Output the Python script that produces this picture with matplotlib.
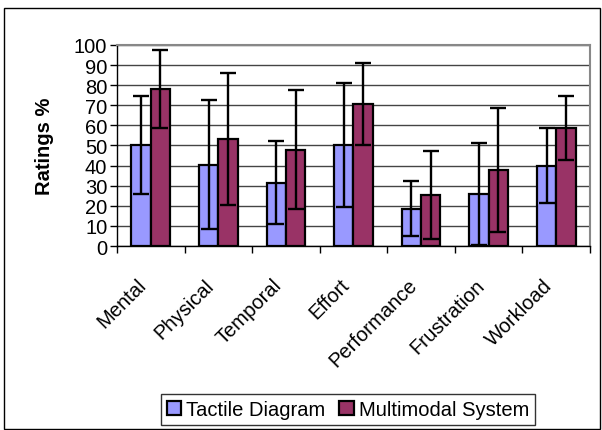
import numpy as np
import matplotlib.pyplot as plt
from matplotlib.patches import Rectangle
from matplotlib.transforms import ScaledTranslation

plt.rcParams['font.family'] = ['Liberation Sans', 'DejaVu Sans']

# dados
categorias = ['Mental', 'Physical', 'Temporal', 'Effort', 'Performance', 'Frustration', 'Workload']
tactile = [50.3, 40.5, 31.5, 50.2, 18.6, 25.7, 40.0]
multimodal = [78.2, 53.2, 47.8, 70.6, 25.3, 37.9, 58.6]
tactile_err = [24.5, 32.2, 20.7, 31.0, 13.8, 25.3, 18.6]
multimodal_err = [19.3, 32.8, 29.6, 20.6, 22.0, 30.7, 15.9]
yticks = list(range(0, 101, 10))

fs = 14.5

fig = plt.figure(figsize=(6.02, 4.31), dpi=100)
ax = fig.add_axes([0.1944, 0.4269, 0.7856, 0.4664])

x = np.arange(len(categorias))
w = 0.286
err_kw = dict(ecolor='black', elinewidth=1.7, capsize=6, capthick=1.7)
ax.bar(x - w / 2, tactile, w, yerr=tactile_err, color='#9999FF', edgecolor='black',
       linewidth=1.6, label='Tactile Diagram', error_kw=err_kw, zorder=3)
ax.bar(x + w / 2, multimodal, w, yerr=multimodal_err, color='#993366', edgecolor='black',
       linewidth=1.6, label='Multimodal System', error_kw=err_kw, zorder=3)

ax.set_xlim(-0.5, len(categorias) - 0.5)
ax.set_ylim(0, 100)
ax.set_yticks(yticks)
ax.set_yticklabels([str(v) for v in yticks], fontsize=fs)
ax.yaxis.grid(True, color='#444444', linewidth=1)
ax.set_axisbelow(True)

# ticks nas fronteiras das categorias
ax.set_xticks(np.arange(len(categorias) + 1) - 0.5)
ax.set_xticklabels([])
ax.set_xticks(x, minor=True)
ax.set_xticklabels(categorias, minor=True, rotation=45, ha='right',
                   rotation_mode='anchor', fontsize=fs)
ax.tick_params(axis='x', which='minor', length=0, pad=0)
ax.tick_params(axis='x', which='major', length=5, width=1, direction='out')
ax.tick_params(axis='y', length=5, width=1, direction='out', pad=2)

# desloca os rótulos rotacionados
desloc = ScaledTranslation(-0.14, -0.29, fig.dpi_scale_trans)
for lbl in ax.get_xticklabels(minor=True):
    lbl.set_transform(lbl.get_transform() + desloc)

for s in ['top', 'right']:
    ax.spines[s].set_color('#888888')
    ax.spines[s].set_linewidth(1.5)
for s in ['left', 'bottom']:
    ax.spines[s].set_color('black')
    ax.spines[s].set_linewidth(1)

ax.set_ylabel('Ratings %', fontsize=14.5, fontweight='bold')
ax.yaxis.set_label_coords(-0.134, 0.5)

leg = fig.legend(loc='center', bbox_to_anchor=(0.578, 0.048), ncol=2, fontsize=fs,
                 frameon=True, fancybox=False, handlelength=0.7, handleheight=0.7,
                 handletextpad=0.25, columnspacing=0.7, borderpad=0.3, borderaxespad=0)
leg.get_frame().set_edgecolor('black')
leg.get_frame().set_linewidth(1)

# moldura externa
fig.patches.append(Rectangle((0.007, 0.002), 0.99, 0.977, transform=fig.transFigure,
                             fill=False, edgecolor='black', linewidth=1))

fig.savefig('out.png', dpi=100)
